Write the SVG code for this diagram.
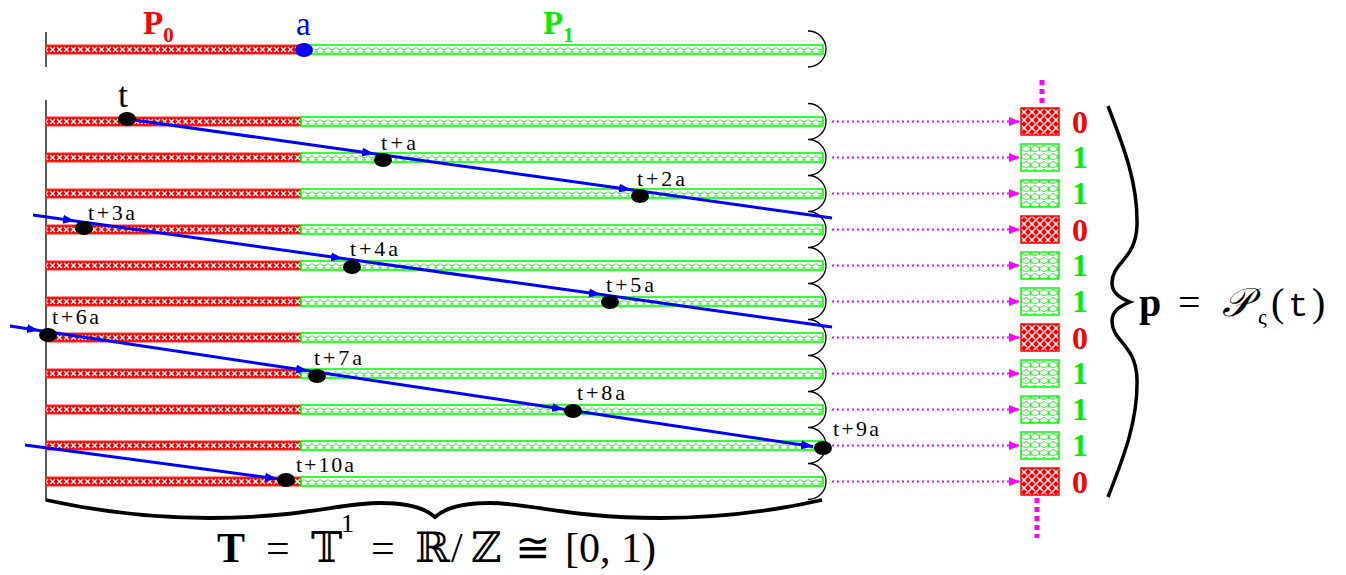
<svg xmlns="http://www.w3.org/2000/svg" width="1346" height="575" viewBox="0 0 1346 575">
<style>
.lbl{font-family:"Liberation Serif",serif;font-size:22px;fill:#000}
.dot{fill:#000}
.blue{stroke:#0000ff;stroke-width:3;fill:none}
.mag{stroke:#ff00ff;stroke-width:2;stroke-dasharray:2 3;fill:none}
.rbar{fill:url(#redBar);stroke:#ff3030;stroke-width:1}
.gbar{fill:url(#greenBar);stroke:#00ff00;stroke-width:1.6}
.rbox{fill:url(#redWeave);stroke:#ff0000;stroke-width:1.5}
.gbox{fill:url(#greenScale);stroke:#00ff00;stroke-width:1.5}
.d0{font-family:"Liberation Serif",serif;font-weight:bold;font-size:32px;fill:#ff0000;text-anchor:middle}
.d1{font-family:"Liberation Serif",serif;font-weight:bold;font-size:32px;fill:#00ee00;text-anchor:middle}
.wave{stroke:#000;stroke-width:1.3;fill:none}
.math{font-family:"Liberation Serif","DejaVu Serif","DejaVu Sans",serif;fill:#000}
</style>
<defs>
<pattern id="redBar" patternUnits="userSpaceOnUse" width="7" height="9">
<rect width="7" height="9" fill="#ff0000"/>
<path d="M1,2 L6,7 M6,2 L1,7" stroke="#fff" stroke-width="1.3"/>
</pattern>
<pattern id="greenBar" patternUnits="userSpaceOnUse" width="8" height="9">
<rect width="8" height="9" fill="#fff"/>
<path d="M0,2.5 Q4,7 8,2.5 M4,4.8 L4,7.5 M2,7 L6,7" stroke="#00ff00" stroke-width="0.9" fill="none"/>
</pattern>
<pattern id="redWeave" patternUnits="userSpaceOnUse" width="8" height="8">
<rect width="8" height="8" fill="#ff0000"/>
<path d="M-1,9 L9,-1 M-1,1 L1,-1 M7,9 L9,7 M0,0 L3,3 M5,5 L8,8" stroke="#fff" stroke-width="1.4"/>
</pattern>
<pattern id="greenScale" patternUnits="userSpaceOnUse" width="9" height="8">
<rect width="9" height="8" fill="#fff"/>
<path d="M0,1 Q4.5,6 9,1 M4.5,3.5 L4.5,7 M-4.5,5 Q0,10 4.5,5 M4.5,5 Q9,10 13.5,5" stroke="#00ff00" stroke-width="0.9" fill="none"/>
</pattern>
<marker id="ab" markerUnits="userSpaceOnUse" markerWidth="13" markerHeight="10" refX="12" refY="4.5" orient="auto">
<path d="M0,0 L12,4.5 L0,9 z" fill="#0000ff"/>
</marker>
<marker id="am" markerUnits="userSpaceOnUse" markerWidth="12" markerHeight="10" refX="11" refY="4.5" orient="auto">
<path d="M0,0 L11,4.5 L0,9 z" fill="#ff00ff"/>
</marker>
</defs>
<rect width="1346" height="575" fill="#fff"/>

<g id="top-interval">
<line x1="46" y1="32" x2="46" y2="67" stroke="#000" stroke-width="1.3"/>
<rect class="rbar" x="46" y="45" width="255" height="9"/>
<rect class="gbar" x="301" y="45" width="522" height="9"/>
<path class="wave" d="M808,31 A18,18 0 0 1 808,67"/>
<ellipse cx="304" cy="50" rx="9" ry="7" fill="#0000ff"/>
<text x="143" y="34" font-family="Liberation Serif,serif" font-weight="bold" font-size="33" fill="#ff0000">P<tspan font-size="21" dy="8">0</tspan></text>
<text x="296" y="35" font-family="Liberation Serif,serif" font-size="33" fill="#0000ff">a</text>
<text x="543" y="34" font-family="Liberation Serif,serif" font-weight="bold" font-size="33" fill="#00ee00">P<tspan font-size="21" dy="8">1</tspan></text>
</g>

<g id="rows">
<line x1="46" y1="100" x2="46" y2="501" stroke="#000" stroke-width="1.3"/>
<g id="row0"><rect class="rbar" x="46" y="117" width="255" height="9"/><rect class="gbar" x="301" y="117" width="522" height="9"/></g>
<g id="row1"><rect class="rbar" x="46" y="153" width="255" height="9"/><rect class="gbar" x="301" y="153" width="522" height="9"/></g>
<g id="row2"><rect class="rbar" x="46" y="189" width="255" height="9"/><rect class="gbar" x="301" y="189" width="522" height="9"/></g>
<g id="row3"><rect class="rbar" x="46" y="225" width="255" height="9"/><rect class="gbar" x="301" y="225" width="522" height="9"/></g>
<g id="row4"><rect class="rbar" x="46" y="261" width="255" height="9"/><rect class="gbar" x="301" y="261" width="522" height="9"/></g>
<g id="row5"><rect class="rbar" x="46" y="297" width="255" height="9"/><rect class="gbar" x="301" y="297" width="522" height="9"/></g>
<g id="row6"><rect class="rbar" x="46" y="333" width="255" height="9"/><rect class="gbar" x="301" y="333" width="522" height="9"/></g>
<g id="row7"><rect class="rbar" x="46" y="369" width="255" height="9"/><rect class="gbar" x="301" y="369" width="522" height="9"/></g>
<g id="row8"><rect class="rbar" x="46" y="405" width="255" height="9"/><rect class="gbar" x="301" y="405" width="522" height="9"/></g>
<g id="row9"><rect class="rbar" x="46" y="441" width="255" height="9"/><rect class="gbar" x="301" y="441" width="522" height="9"/></g>
<g id="row10"><rect class="rbar" x="46" y="477" width="255" height="9"/><rect class="gbar" x="301" y="477" width="522" height="9"/></g>
<path class="wave" d="M808,103.5 A18,18 0 0 1 808,139.5 A18,18 0 0 1 808,175.5 A18,18 0 0 1 808,211.5 A18,18 0 0 1 808,247.5 A18,18 0 0 1 808,283.5 A18,18 0 0 1 808,319.5 A18,18 0 0 1 808,355.5 A18,18 0 0 1 808,391.5 A18,18 0 0 1 808,427.5 A18,18 0 0 1 808,463.5 A18,18 0 0 1 808,499.5"/>
</g>

<g id="connectors">
<path class="blue" marker-end="url(#ab)" d="M127,119 L374,153.7"/>
<path class="blue" marker-end="url(#ab)" d="M374,153.7 L631,189.8"/>
<path class="blue" d="M631,189.8 L832,218"/>
<path class="blue" marker-end="url(#ab)" d="M33,215 L75,220.9"/>
<path class="blue" marker-end="url(#ab)" d="M75,220.9 L343,258.5"/>
<path class="blue" marker-end="url(#ab)" d="M343,258.5 L601,294.6"/>
<path class="blue" d="M601,294.6 L832,327"/>
<path class="blue" marker-end="url(#ab)" d="M10,326 L39,330.4"/>
<path class="blue" marker-end="url(#ab)" d="M39,330.4 L308,370.8"/>
<path class="blue" marker-end="url(#ab)" d="M308,370.8 L564,409.2"/>
<path class="blue" marker-end="url(#ab)" d="M564,409.2 L813,446.6"/>
<path class="blue" marker-end="url(#ab)" d="M25,445 L277,478.8"/>
<path class="mag" marker-end="url(#am)" d="M832,121.5 H1020"/>
<path class="mag" marker-end="url(#am)" d="M832,157.5 H1020"/>
<path class="mag" marker-end="url(#am)" d="M832,193.5 H1020"/>
<path class="mag" marker-end="url(#am)" d="M832,229.5 H1020"/>
<path class="mag" marker-end="url(#am)" d="M832,265.5 H1020"/>
<path class="mag" marker-end="url(#am)" d="M832,301.5 H1020"/>
<path class="mag" marker-end="url(#am)" d="M832,337.5 H1020"/>
<path class="mag" marker-end="url(#am)" d="M832,373.5 H1020"/>
<path class="mag" marker-end="url(#am)" d="M832,409.5 H1020"/>
<path class="mag" marker-end="url(#am)" d="M832,445.5 H1020"/>
<path class="mag" marker-end="url(#am)" d="M832,481.5 H1020"/>
<path d="M1042,80 V106" stroke="#ff00ff" stroke-width="5" stroke-dasharray="5 4"/>
<path d="M1037,498 V538" stroke="#ff00ff" stroke-width="5" stroke-dasharray="5 4"/>
</g>

<g id="p0"><ellipse class="dot" cx="127" cy="119" rx="9" ry="7"/><text x="118" y="107" font-family="Liberation Serif,serif" font-size="36">t</text></g>
<g id="p1"><ellipse class="dot" cx="383" cy="160" rx="9" ry="7"/><text class="lbl" x="381" y="150" textLength="35" lengthAdjust="spacing">t+a</text></g>
<g id="p2"><ellipse class="dot" cx="640" cy="196" rx="9" ry="7"/><text class="lbl" x="637" y="186" textLength="48" lengthAdjust="spacing">t+2a</text></g>
<g id="p3"><ellipse class="dot" cx="84" cy="228" rx="9" ry="7"/><text class="lbl" x="88" y="220" textLength="47" lengthAdjust="spacing">t+3a</text></g>
<g id="p4"><ellipse class="dot" cx="352" cy="267" rx="9" ry="7"/><text class="lbl" x="350" y="256" textLength="48" lengthAdjust="spacing">t+4a</text></g>
<g id="p5"><ellipse class="dot" cx="610" cy="302" rx="9" ry="7"/><text class="lbl" x="606" y="292" textLength="48" lengthAdjust="spacing">t+5a</text></g>
<g id="p6"><ellipse class="dot" cx="48" cy="335" rx="9" ry="7"/><text class="lbl" x="52" y="324" textLength="47" lengthAdjust="spacing">t+6a</text></g>
<g id="p7"><ellipse class="dot" cx="317" cy="376" rx="9" ry="7"/><text class="lbl" x="314" y="365" textLength="48" lengthAdjust="spacing">t+7a</text></g>
<g id="p8"><ellipse class="dot" cx="573" cy="411" rx="9" ry="7"/><text class="lbl" x="577" y="400" textLength="48" lengthAdjust="spacing">t+8a</text></g>
<g id="p9"><ellipse class="dot" cx="823" cy="448" rx="9" ry="7"/><text class="lbl" x="833" y="436" textLength="46" lengthAdjust="spacing">t+9a</text></g>
<g id="p10"><ellipse class="dot" cx="286" cy="480" rx="9" ry="7"/><text class="lbl" x="296" y="472" textLength="58" lengthAdjust="spacing">t+10a</text></g>

<g id="symbols">
<g id="b0"><rect class="rbox" x="1021" y="108" width="38" height="27"/><text class="d0" x="1080" y="133">0</text></g>
<g id="b1"><rect class="gbox" x="1021" y="144" width="38" height="27"/><text class="d1" x="1080" y="168">1</text></g>
<g id="b2"><rect class="gbox" x="1021" y="180" width="38" height="27"/><text class="d1" x="1080" y="204">1</text></g>
<g id="b3"><rect class="rbox" x="1021" y="216" width="38" height="27"/><text class="d0" x="1080" y="241">0</text></g>
<g id="b4"><rect class="gbox" x="1021" y="252" width="38" height="27"/><text class="d1" x="1080" y="276">1</text></g>
<g id="b5"><rect class="gbox" x="1021" y="288" width="38" height="27"/><text class="d1" x="1080" y="312">1</text></g>
<g id="b6"><rect class="rbox" x="1021" y="324" width="38" height="27"/><text class="d0" x="1080" y="349">0</text></g>
<g id="b7"><rect class="gbox" x="1021" y="360" width="38" height="27"/><text class="d1" x="1080" y="384">1</text></g>
<g id="b8"><rect class="gbox" x="1021" y="396" width="38" height="27"/><text class="d1" x="1080" y="420">1</text></g>
<g id="b9"><rect class="gbox" x="1021" y="432" width="38" height="27"/><text class="d1" x="1080" y="456">1</text></g>
<g id="b10"><rect class="rbox" x="1021" y="468" width="38" height="27"/><text class="d0" x="1080" y="493">0</text></g>
</g>

<g id="right-brace">
<path d="M1108,106 C1125,150 1138,185 1137,225 C1136,260 1112,262 1112,283 C1112,293 1120,298 1130,302 C1120,306 1112,311 1112,321 C1112,342 1136,344 1137,379 C1138,419 1125,454 1108,497" stroke="#000" stroke-width="3.5" fill="none"/>
<text class="math" y="316" font-size="40"><tspan x="1139" font-weight="bold">p</tspan><tspan x="1178">=</tspan><tspan x="1222" font-style="italic">𝒫</tspan><tspan x="1258" y="324" font-size="22">ς</tspan><tspan x="1271" y="316">(</tspan><tspan x="1288" font-family="Liberation Mono,monospace" font-size="34">t</tspan><tspan x="1312">)</tspan></text>
</g>
<g id="bottom-brace">
<path d="M46,500 C110,514 160,518 210,518 C300,518 340,503 380,503 C405,503 425,508 435,517 C445,508 465,503 490,503 C530,503 570,518 660,518 C710,518 760,514 822,500" stroke="#000" stroke-width="3.8" fill="none"/>
<text class="math" y="562" font-size="42"><tspan x="217" font-weight="bold">T</tspan><tspan x="266">=</tspan><tspan x="311">𝕋</tspan><tspan x="341" y="532" font-size="26">1</tspan><tspan x="371" y="562">=</tspan><tspan x="415">ℝ</tspan><tspan x="451">/</tspan><tspan x="471">ℤ</tspan><tspan x="515">≅</tspan><tspan x="565">[0, 1)</tspan></text>
</g>
</svg>
